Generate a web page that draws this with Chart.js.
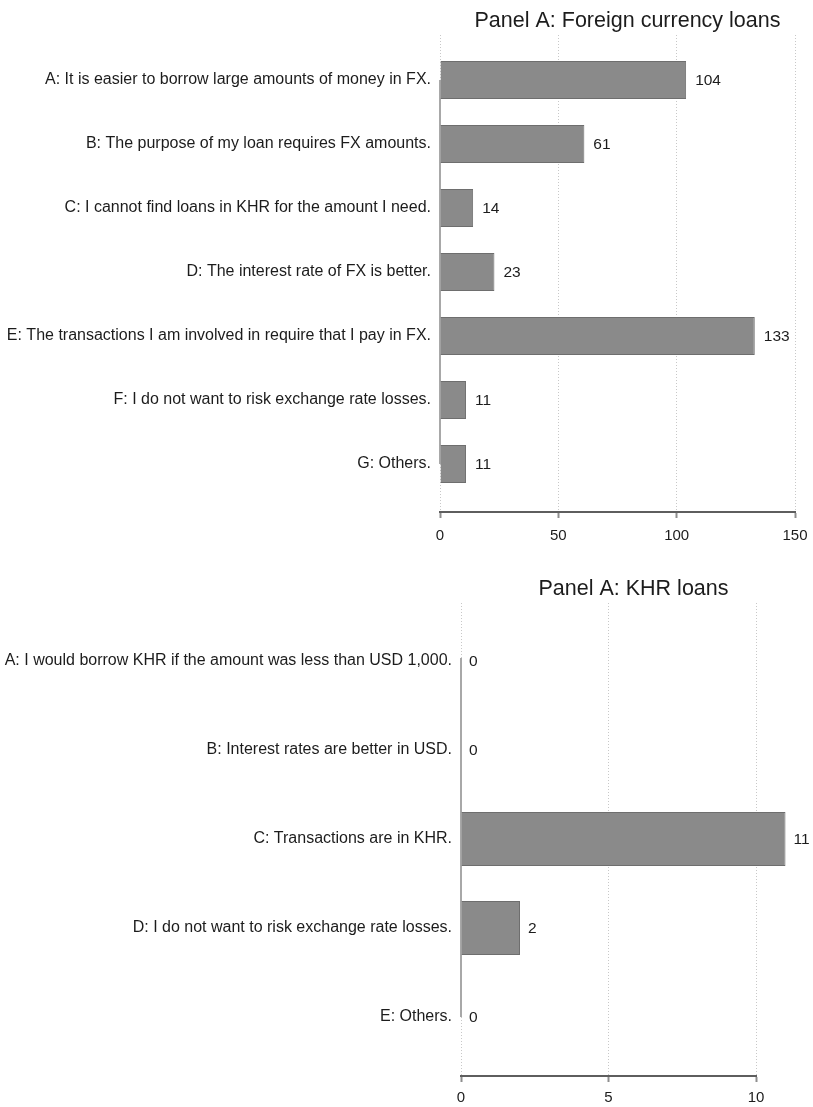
<!DOCTYPE html>
<html><head><meta charset="utf-8">
<script src="https://cdn.jsdelivr.net/npm/chart.js@4.4.1/dist/chart.umd.min.js"></script>
<style>
html,body{margin:0;padding:0;background:#fff;}
#w1{position:absolute;left:0;top:0;width:813px;height:560px;}
#w2{position:absolute;left:0;top:560px;width:813px;height:547px;}
</style></head><body>
<div id="w1"><canvas id="c1"></canvas></div>
<div id="w2"><canvas id="c2"></canvas></div>
<script>
const fxTitle = "Panel A: Foreign currency loans";
const fxCategories = [
  "A: It is easier to borrow large amounts of money in FX.",
  "B: The purpose of my loan requires FX amounts.",
  "C: I cannot find loans in KHR for the amount I need.",
  "D: The interest rate of FX is better.",
  "E: The transactions I am involved in require that I pay in FX.",
  "F: I do not want to risk exchange rate losses.",
  "G: Others."
];
const fxValues = [104, 61, 14, 23, 133, 11, 11];
const fxTicks = [0, 50, 100, 150];

const khrTitle = "Panel A: KHR loans";
const khrCategories = [
  "A: I would borrow KHR if the amount was less than USD 1,000.",
  "B: Interest rates are better in USD.",
  "C: Transactions are in KHR.",
  "D: I do not want to risk exchange rate losses.",
  "E: Others."
];
const khrValues = [0, 0, 11, 2, 0];
const khrTicks = [0, 5, 10];

const FONT = '"Liberation Sans", Arial, sans-serif';
const TEXT = '#1c1c1c';

function makeChart(id, title, cats, vals, ticks, o) {
  const overlay = {
    id: 'overlay',
    beforeDatasetsDraw(chart) {
      const ctx = chart.ctx, xs = chart.scales.x, ys = chart.scales.y;
      const x = xs.getPixelForValue(0);
      ctx.save();
      ctx.strokeStyle = '#a8a8a8';
      ctx.lineWidth = 2;
      ctx.beginPath();
      ctx.moveTo(x, ys.getPixelForValue(0) - o.baseExt);
      ctx.lineTo(x, ys.getPixelForValue(cats.length - 1));
      ctx.stroke();
      ctx.restore();
    },
    afterDatasetsDraw(chart) {
      const ctx = chart.ctx;
      const meta = chart.getDatasetMeta(0);
      ctx.save();
      ctx.font = '15.5px ' + FONT;
      ctx.fillStyle = TEXT;
      ctx.textAlign = 'left';
      ctx.textBaseline = 'middle';
      meta.data.forEach((bar, i) => {
        ctx.fillText(String(vals[i]), bar.x + o.labelGap, bar.y + 1);
      });
      const ca = chart.chartArea;
      ctx.font = '21.5px ' + FONT;
      ctx.textAlign = 'center';
      ctx.textBaseline = 'alphabetic';
      ctx.fillText(title, (ca.left + ca.right) / 2 + o.titleDx, o.titleY);
      ctx.restore();
    }
  };
  return new Chart(document.getElementById(id), {
    type: 'bar',
    data: {
      datasets: [{
        data: vals.map((v, i) => ({ x: v, y: i })),
        backgroundColor: '#8a8a8a',
        borderColor: '#6e6e6e',
        borderWidth: 1,
        categoryPercentage: 1,
        barPercentage: o.barPct,
        clip: false
      }]
    },
    options: {
      indexAxis: 'y',
      responsive: true,
      maintainAspectRatio: false,
      animation: false,
      layout: { padding: { top: o.padTop, right: o.padRight, bottom: o.padBottom, left: 0 } },
      plugins: { legend: { display: false }, tooltip: { enabled: false }, title: { display: false } },
      scales: {
        x: {
          type: 'linear',
          position: 'bottom',
          min: 0,
          max: o.xMax,
          afterBuildTicks: s => { s.ticks = ticks.map(v => ({ value: v })); },
          afterFit: s => { s.height = 30; s.paddingRight = 0; s.paddingLeft = 0; },
          ticks: { font: { family: FONT, size: 15 }, color: TEXT, padding: o.tickPad, maxRotation: 0, autoSkip: false },
          grid: { color: '#c8c8c8', lineWidth: 1, tickColor: '#8e8e8e', tickLength: 6, tickWidth: 2 },
          border: { color: '#5e5e5e', width: 2, dash: [1, 2] }
        },
        y: {
          type: 'linear',
          reverse: true,
          offset: false,
          min: o.yMin,
          max: o.yMax,
          afterBuildTicks: s => { s.ticks = cats.map((c, i) => ({ value: i })); },
          afterFit: s => { s.width = o.leftW; },
          ticks: { callback: v => cats[v], font: { family: FONT, size: 16 }, color: TEXT, padding: 9, autoSkip: false },
          grid: { display: false, drawTicks: false, offset: false },
          border: { display: false }
        }
      }
    },
    plugins: [overlay]
  });
}

makeChart('c1', fxTitle, fxCategories, fxValues, fxTicks, {
  xMax: 150, yMin: -0.703, yMax: 6.75, barPct: 0.594,
  padTop: 35, padRight: 18, padBottom: 18, leftW: 440, tickPad: 9,
  labelGap: 9, titleDx: 10, titleY: 27, baseExt: 0
});
makeChart('c2', khrTitle, khrCategories, khrValues, khrTicks, {
  xMax: 10, yMin: -0.652, yMax: 4.663, barPct: 0.607,
  padTop: 43, padRight: 57, padBottom: 1, leftW: 461, tickPad: 7,
  labelGap: 8, titleDx: 25, titleY: 35, baseExt: 3
});
</script>
</body></html>
